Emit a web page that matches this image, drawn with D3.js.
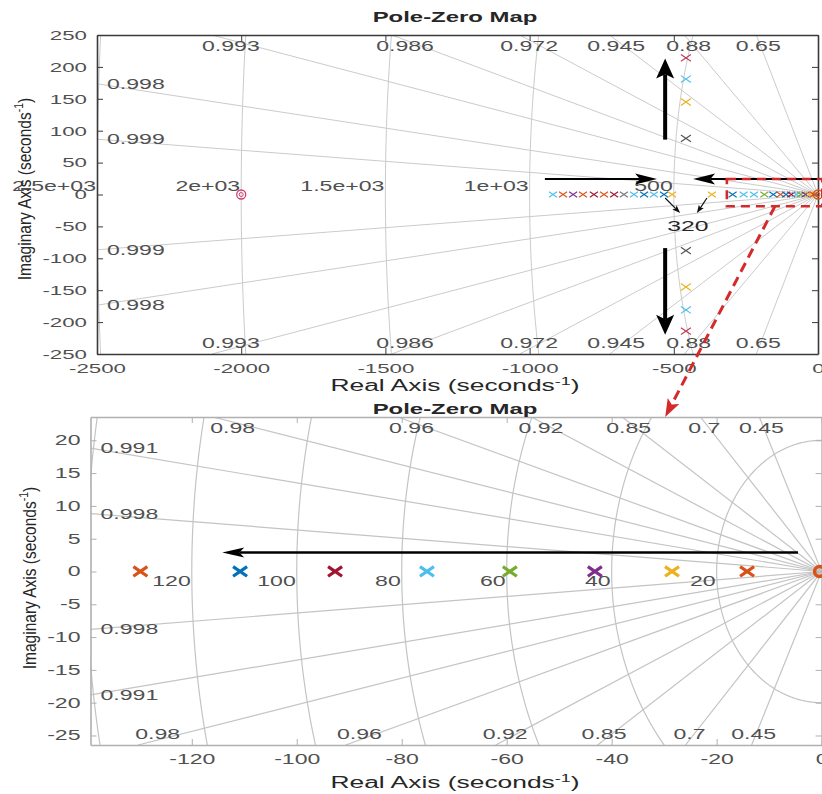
<!DOCTYPE html>
<html>
<head>
<meta charset="utf-8">
<script src="https://cdn.jsdelivr.net/npm/d3@7"></script>
<style>
  body { margin: 0; background: #fff; }
  svg text { font-family: "Liberation Sans", Arial, Helvetica, sans-serif; }
</style>
</head>
<body>
<svg id="chart" width="822" height="794"></svg>
<script>
// ---------- data: overview pole-zero map ----------
const topXTicks = [-2500, -2000, -1500, -1000, -500, 0];
const topYTicks = [-250, -200, -150, -100, -50, 0, 50, 100, 150, 200, 250];
const topDamping = [0.9994, 0.9976, 0.993, 0.986, 0.972, 0.945, 0.88, 0.65];
const topNatFreq = [500, 1000, 1500, 2000, 2500];
const topRealPoles = [-919, -884, -849, -815, -777, -742, -707, -673, -638, -603, -569, -534, -506,
  -368, -296, -258, -222, -186, -155, -129.8, -110.8, -92.7, -75.2, -59.4, -43.2, -28.5, -14.2];
const topRealPoleColors = ["#4DBEEE", "#D95319", "#7E2F8E", "#D95319", "#A2142F", "#D95319", "#A2142F",
  "#777777", "#4DBEEE", "#0072BD", "#4DBEEE", "#0072BD", "#EDB120", "#EDB120", "#0072BD", "#4DBEEE",
  "#4DBEEE", "#77AC30", "#0072BD", "#D95319", "#0072BD", "#A2142F", "#4DBEEE", "#77AC30", "#7E2F8E",
  "#EDB120", "#D95319"];
const topComplexRe = [-458, -458, -458, -458];
const topComplexIm = [88, 145, 181, 214];
const topComplexColors = ["#555555", "#EDB120", "#4DBEEE", "#C0405A"];
const topZeros = [-2000, 0];
const topZeroColors = ["#D0406A", "#D95319"];

// ---------- data: zoomed pole-zero map ----------
const botXTicks = [-120, -100, -80, -60, -40, -20, 0];
const botYTicks = [-25, -20, -15, -10, -5, 0, 5, 10, 15, 20];
const botDamping = [0.998, 0.991, 0.98, 0.96, 0.92, 0.85, 0.7, 0.45];
const botNatFreq = [20, 40, 60, 80, 100, 120, 140];
const botNatFreqLabels = [20, 40, 60, 80, 100, 120];
const botPoles = [-129.8, -110.8, -92.7, -75.2, -59.4, -43.2, -28.5, -14.2];
const botPoleColors = ["#D95319", "#0072BD", "#A2142F", "#4DBEEE", "#77AC30", "#7E2F8E", "#EDB120", "#D95319"];
const botZeros = [0];
const botZeroColors = ["#D95319"];

// ---------- helpers ----------
const SX = 1.65;                 // horizontal stretch of the figure's lettering
const svg = d3.select("#chart");

// %.3g style number formatting (MATLAB grid labels)
function fmtG(v) {
  const e = Math.floor(Math.log10(Math.abs(v)));
  if (e >= 3) {
    const m = +(v / Math.pow(10, e)).toPrecision(3);
    return m + "e+" + String(e).padStart(2, "0");
  }
  return String(+v.toPrecision(3));
}

function addText(g, x, y, str, o = {}) {
  return g.append("text")
    .attr("transform", `translate(${x},${y}) scale(${o.sx ?? SX},1)`)
    .attr("text-anchor", o.anchor || "middle")
    .attr("dy", "0.35em")
    .attr("font-size", o.size || 14)
    .attr("font-weight", o.weight || "normal")
    .attr("fill", o.color || "#505050")
    .text(str);
}

function unitLabel(g, x, y, base, o = {}) {
  const t = g.append("text")
    .attr("transform", o.rotate
      ? `translate(${x},${y}) rotate(-90) scale(1,${o.sy ?? 1})`
      : `translate(${x},${y}) scale(${o.sx ?? SX},1)`)
    .attr("text-anchor", "middle")
    .attr("dy", "0.35em")
    .attr("font-size", o.size || 16)
    .attr("fill", "#262626");
  t.append("tspan").text(base);
  t.append("tspan").attr("dy", -6).attr("font-size", (o.size || 16) * 0.68).text("-1");
  t.append("tspan").attr("dy", 6).text(")");
  return t;
}

function xMark(cx, cy, w, h) {
  return `M${cx - w},${cy - h}L${cx + w},${cy + h}M${cx - w},${cy + h}L${cx + w},${cy - h}`;
}

function arrow(g, p1, p2, o) {
  const [x1, y1] = p1, [x2, y2] = p2;
  const dx = x2 - x1, dy = y2 - y1, L = Math.hypot(dx, dy);
  const ux = dx / L, uy = dy / L, nx = -uy, ny = ux;
  const hl = o.headLen, hw = o.headW / 2;
  const bx = x2 - ux * hl, by = y2 - uy * hl;
  const kx = x2 - ux * hl * 0.78, ky = y2 - uy * hl * 0.78;
  g.append("line")
    .attr("x1", x1).attr("y1", y1).attr("x2", kx).attr("y2", ky)
    .attr("stroke", o.color).attr("stroke-width", o.width)
    .attr("stroke-dasharray", o.dash || null);
  g.append("path")
    .attr("d", `M${x2},${y2}L${bx + nx * hw},${by + ny * hw}L${kx},${ky}L${bx - nx * hw},${by - ny * hw}Z`)
    .attr("fill", o.color);
}

// ---------- one pole-zero panel with damping / natural-frequency grid ----------
function drawPanel(P) {
  const g = svg.append("g");
  const [xL, xR] = P.x.range();
  const [yB, yT] = P.y.range();
  const [xmin] = P.x.domain();
  const [ymin, ymax] = P.y.domain();

  svg.append("clipPath").attr("id", P.id + "-clip")
    .append("rect").attr("x", xL).attr("y", yT).attr("width", xR - xL).attr("height", yB - yT);
  const grid = g.append("g").attr("clip-path", `url(#${P.id}-clip)`)
    .attr("fill", "none").attr("stroke", P.gridColor).attr("stroke-width", P.gridWidth);

  // natural frequency arcs
  const arc = d3.line().x(d => P.x(d[0])).y(d => P.y(d[1]));
  P.wn.forEach(w => {
    const pts = d3.range(90, 270.001, 0.5).map(a => [w * Math.cos(a * Math.PI / 180), w * Math.sin(a * Math.PI / 180)]);
    grid.append("path").attr("d", arc(pts));
  });

  // damping rays + labels
  const labels = g.append("g");
  P.damping.forEach(z => {
    const s = Math.sqrt(1 - z * z);
    [1, -1].forEach(sg => {
      const lim = sg > 0 ? ymax : -ymin;
      const tEdge = lim / s, tLeft = -xmin / z;
      const t = Math.min(tEdge, tLeft);
      grid.append("line")
        .attr("x1", P.x(0)).attr("y1", P.y(0))
        .attr("x2", P.x(-z * t)).attr("y2", P.y(sg * s * t));
      if (tEdge < tLeft) {
        const yEdge = P.y(sg * lim);
        const yAt = P.y.invert(yEdge + sg * 5);
        const xAt = -Math.abs(yAt) * z / s;
        addText(labels, P.x(xAt), yEdge + sg * 11, fmtG(z), { size: P.gridFont });
      } else {
        addText(labels, xL + 10, P.y(sg * s * tLeft), fmtG(z), { anchor: "start", size: P.gridFont });
      }
    });
  });

  // natural frequency labels on the real axis
  P.wnLabels.forEach(w => {
    addText(labels, P.x(-w) - 1, P.y(0) + P.wnDy, fmtG(w), { anchor: "end", size: P.gridFont });
  });

  // axes (inward ticks on all four sides)
  const fmt = d => String(d);
  const styleAxis = (sel) => {
    sel.select(".domain").attr("stroke", P.axisColor).attr("stroke-width", P.axisWidth);
    sel.selectAll(".tick line").attr("stroke", P.axisColor).attr("stroke-width", 1);
    sel.selectAll("text").attr("font-size", P.tickFont).attr("fill", "#505050")
      .attr("font-family", null)
      .each(function () {
        const t = d3.select(this);
        const x = +t.attr("x") || 0;
        t.attr("x", x / SX).attr("transform", `scale(${SX},1)`);
      });
  };
  g.append("g").attr("transform", `translate(0,${yB})`)
    .call(d3.axisBottom(P.x).tickValues(P.xTicks).tickFormat(fmt).tickSizeInner(-6).tickSizeOuter(0).tickPadding(9))
    .call(styleAxis);
  g.append("g").attr("transform", `translate(0,${yT})`)
    .call(d3.axisTop(P.x).tickValues(P.xTicks).tickFormat("").tickSizeInner(-6).tickSizeOuter(0))
    .call(styleAxis);
  g.append("g").attr("transform", `translate(${xL},0)`)
    .call(d3.axisLeft(P.y).tickValues(P.yTicks).tickFormat(fmt).tickSizeInner(-6).tickSizeOuter(0).tickPadding(10))
    .call(styleAxis);
  g.append("g").attr("transform", `translate(${xR},0)`)
    .call(d3.axisRight(P.y).tickValues(P.yTicks).tickFormat("").tickSizeInner(-6).tickSizeOuter(0))
    .call(styleAxis);

  return g;
}

// ---------- overview panel ----------
const topPanel = {
  id: "ov",
  x: d3.scaleLinear().domain([-2500, 0]).range([97, 818]),
  y: d3.scaleLinear().domain([-250, 250]).range([354, 35]),
  xTicks: topXTicks, yTicks: topYTicks,
  damping: topDamping, wn: topNatFreq, wnLabels: topNatFreq, wnDy: -8,
  gridColor: "#cbcbcb", gridWidth: 1, axisColor: "#3a3a3a", axisWidth: 1.6,
  gridFont: 14, tickFont: 13.5
};
const gTop = drawPanel(topPanel);

// ---------- zoomed panel ----------
const botPanel = {
  id: "zm",
  x: d3.scaleLinear().domain([-139.3, 0]).range([90.5, 821.6]),
  y: d3.scaleLinear().domain([-26.45, 23.55]).range([745, 417]),
  xTicks: botXTicks, yTicks: botYTicks,
  damping: botDamping, wn: botNatFreq, wnLabels: botNatFreqLabels, wnDy: 10,
  gridColor: "#c4c4c4", gridWidth: 1.2, axisColor: "#b0b0b0", axisWidth: 1.6,
  gridFont: 14, tickFont: 14
};
const gBot = drawPanel(botPanel);

// ---------- markers: overview ----------
const mTop = gTop.append("g").attr("fill", "none");
topRealPoles.forEach((p, i) => {
  mTop.append("path").attr("d", xMark(topPanel.x(p), topPanel.y(0), 4, 2.8))
    .attr("stroke", topRealPoleColors[i]).attr("stroke-width", 1.1);
});
topComplexRe.forEach((re, i) => {
  [1, -1].forEach(sg => {
    mTop.append("path").attr("d", xMark(topPanel.x(re), topPanel.y(sg * topComplexIm[i]), 5, 3.4))
      .attr("stroke", topComplexColors[i]).attr("stroke-width", 1.2);
  });
});
topZeros.forEach((z, i) => {
  mTop.append("circle").attr("cx", topPanel.x(z)).attr("cy", topPanel.y(0)).attr("r", 4.5)
    .attr("stroke", topZeroColors[i]).attr("stroke-width", 1.3);
  mTop.append("circle").attr("cx", topPanel.x(z)).attr("cy", topPanel.y(0)).attr("r", 2)
    .attr("stroke", topZeroColors[i]).attr("stroke-width", 1);
});

// ---------- markers: zoomed ----------
const mBot = gBot.append("g").attr("fill", "none");
botPoles.forEach((p, i) => {
  mBot.append("path").attr("d", xMark(botPanel.x(p), botPanel.y(0), 7, 4.8))
    .attr("stroke", botPoleColors[i]).attr("stroke-width", 3.2);
});
botZeros.forEach((z, i) => {
  mBot.append("circle").attr("cx", botPanel.x(z) - 2).attr("cy", botPanel.y(0)).attr("r", 5)
    .attr("stroke", botZeroColors[i]).attr("stroke-width", 3.5);
});

// ---------- titles and axis labels ----------
const lab = svg.append("g");
addText(lab, 455, 17, "Pole-Zero Map", { size: 14.5, weight: "bold", color: "#262626" });
addText(lab, 455, 409, "Pole-Zero Map", { size: 14.5, weight: "bold", color: "#262626" });
unitLabel(lab, 455, 385, "Real Axis (seconds", { size: 16 });
unitLabel(lab, 455, 782, "Real Axis (seconds", { size: 16 });
unitLabel(lab, 24, 189, "Imaginary Axis (seconds", { size: 15.5, rotate: true, sy: 1.2 });
unitLabel(lab, 29, 578, "Imaginary Axis (seconds", { size: 15.5, rotate: true, sy: 1.2 });

// ---------- annotations: overview ----------
const ann = svg.append("g");
const tp = (x, y) => [topPanel.x(x), topPanel.y(y)];
const bp = (x, y) => [botPanel.x(x), botPanel.y(y)];
arrow(ann, tp(-530, 86), tp(-530, 213), { color: "#000", width: 4, headLen: 20, headW: 18 });
arrow(ann, tp(-530, -84), tp(-530, -220), { color: "#000", width: 4, headLen: 20, headW: 18 });
arrow(ann, tp(-947, 24.3), tp(-558, 24.3), { color: "#000", width: 2, headLen: 22, headW: 11 });
arrow(ann, tp(12, 24.3), tp(-433, 24.3), { color: "#000", width: 2, headLen: 22, headW: 11 });
arrow(ann, tp(-530, -5.5), tp(-478, -29), { color: "#111", width: 1.2, headLen: 8, headW: 6 });
arrow(ann, tp(-385, -5.5), tp(-420, -29), { color: "#111", width: 1.2, headLen: 8, headW: 6 });
addText(ann, topPanel.x(-451), topPanel.y(-49.4), "320", { size: 15, color: "#262626" });

// zoom region and pointer to the zoomed panel
const [rx0, ry0] = tp(-316, 24.2), [rx1, ry1] = tp(15, -18.3);
ann.append("rect").attr("x", rx0).attr("y", ry0).attr("width", rx1 - rx0).attr("height", ry1 - ry0)
  .attr("fill", "none").attr("stroke", "#D42A2A").attr("stroke-width", 2.6).attr("stroke-dasharray", "9,6");
arrow(ann, tp(-149, -18.3), bp(-29.8, 23.55), { color: "#D42A2A", width: 3, headLen: 18, headW: 13, dash: "10,6" });

// ---------- annotation: zoomed ----------
arrow(ann, bp(-4.5, 2.9), bp(-114.2, 2.9), { color: "#000", width: 2.4, headLen: 22, headW: 10 });
</script>
</body>
</html>
